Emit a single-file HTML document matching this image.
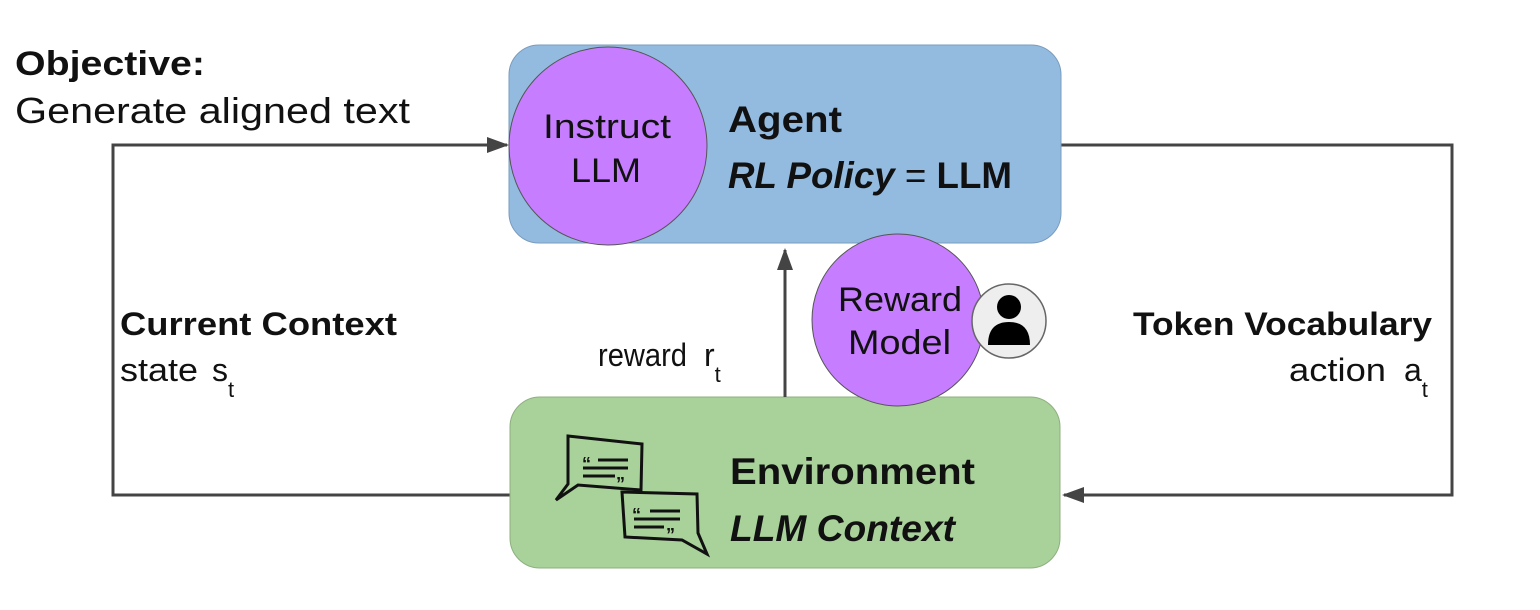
<!DOCTYPE html>
<html><head><style>
body{margin:0;background:#fff;width:1540px;height:605px;overflow:hidden;font-family:"Liberation Sans",sans-serif;}
</style></head><body>
<svg width="1540" height="605" viewBox="0 0 1540 605" xmlns="http://www.w3.org/2000/svg" font-family="Liberation Sans, sans-serif">
<defs>
<marker id="b" markerWidth="22" markerHeight="16" refX="20" refY="8" orient="auto" markerUnits="userSpaceOnUse"><path d="M0,0 L22,8 L0,16z" fill="#444"/></marker></defs>
<text x="15" y="75" font-size="34" font-weight="bold" fill="#111" textLength="190" lengthAdjust="spacingAndGlyphs">Objective:</text>
<text x="15" y="123" font-size="36" fill="#111" textLength="395" lengthAdjust="spacingAndGlyphs">Generate aligned text</text>
<polyline points="510,495 113,495 113,145 507,145" fill="none" stroke="#444" stroke-width="3" marker-end="url(#b)"/>
<polyline points="1061,145 1452,145 1452,495 1064,495" fill="none" stroke="#444" stroke-width="3" marker-end="url(#b)"/>
<rect x="509" y="45" width="552" height="198" rx="30" fill="#93bbe0" stroke="#7a9cbd" stroke-width="1"/>
<rect x="510" y="397" width="550" height="171" rx="30" fill="#a9d19a" stroke="#8db07f" stroke-width="1"/>
<line x1="785" y1="397" x2="785" y2="250" stroke="#444" stroke-width="3" marker-end="url(#b)"/>
<circle cx="608" cy="146" r="99" fill="#c77dff" stroke="#555" stroke-width="1"/>
<text x="543" y="138" font-size="34" fill="#111" textLength="128" lengthAdjust="spacingAndGlyphs">Instruct</text>
<text x="571" y="182" font-size="34" fill="#111" textLength="70" lengthAdjust="spacingAndGlyphs">LLM</text>
<text x="728" y="132" font-size="37" font-weight="bold" fill="#111" textLength="114" lengthAdjust="spacingAndGlyphs">Agent</text>
<text x="728" y="188" font-size="37" fill="#111" textLength="284" lengthAdjust="spacingAndGlyphs"><tspan font-weight="bold" font-style="italic">RL Policy</tspan> = <tspan font-weight="bold">LLM</tspan></text>
<circle cx="898" cy="320" r="86" fill="#c77dff" stroke="#555" stroke-width="1"/>
<circle cx="1009" cy="321" r="37" fill="#eee" stroke="#666" stroke-width="1.5"/>
<circle cx="1009" cy="307" r="12" fill="#000"/>
<path d="M988,345 Q988,322 1009,322 Q1030,322 1030,345 Z" fill="#000"/>
<text x="838" y="311" font-size="34" fill="#111" textLength="124" lengthAdjust="spacingAndGlyphs">Reward</text>
<text x="848" y="354" font-size="34" fill="#111" textLength="103" lengthAdjust="spacingAndGlyphs">Model</text>
<text x="598" y="366" font-size="32" fill="#111"><tspan textLength="89" lengthAdjust="spacingAndGlyphs">reward</tspan><tspan x="704">r</tspan><tspan font-size="22" dy="16">t</tspan></text>
<text x="120" y="335" font-size="32" font-weight="bold" fill="#111" textLength="277" lengthAdjust="spacingAndGlyphs">Current Context</text>
<text x="120" y="381" font-size="32" fill="#111"><tspan textLength="78" lengthAdjust="spacingAndGlyphs">state</tspan><tspan x="212">s</tspan><tspan font-size="22" dy="16">t</tspan></text>
<text x="1133" y="335" font-size="32" font-weight="bold" fill="#111" textLength="299" lengthAdjust="spacingAndGlyphs">Token Vocabulary</text>
<text x="1289" y="381" font-size="32" fill="#111"><tspan textLength="97" lengthAdjust="spacingAndGlyphs">action</tspan><tspan x="1404">a</tspan><tspan font-size="22" dy="16">t</tspan></text>
<text x="730" y="484" font-size="37" font-weight="bold" fill="#111" textLength="245" lengthAdjust="spacingAndGlyphs">Environment</text>
<text x="730" y="541" font-size="37" font-weight="bold" font-style="italic" fill="#111" textLength="225" lengthAdjust="spacingAndGlyphs">LLM Context</text>
<g fill="none" stroke="#111" stroke-width="3">
<path d="M568,436 L642,444 L641,490 L578,485 L556,500 L568,484 Z"/>
<path d="M622,492 L697,494 L698,533 L707,554 L682,540 L625,537 Z"/>
<line x1="598" y1="460" x2="628" y2="460"/><line x1="583" y1="468" x2="628" y2="468"/><line x1="583" y1="476" x2="615" y2="476"/>
<line x1="650" y1="511" x2="680" y2="511"/><line x1="634" y1="519" x2="680" y2="519"/><line x1="634" y1="527" x2="664" y2="527"/>
</g>
<text x="582" y="470" font-size="18" font-weight="bold" fill="#111">“</text>
<text x="616" y="490" font-size="18" font-weight="bold" fill="#111">”</text>
<text x="632" y="521" font-size="18" font-weight="bold" fill="#111">“</text>
<text x="666" y="541" font-size="18" font-weight="bold" fill="#111">”</text>
</svg>
</body></html>
